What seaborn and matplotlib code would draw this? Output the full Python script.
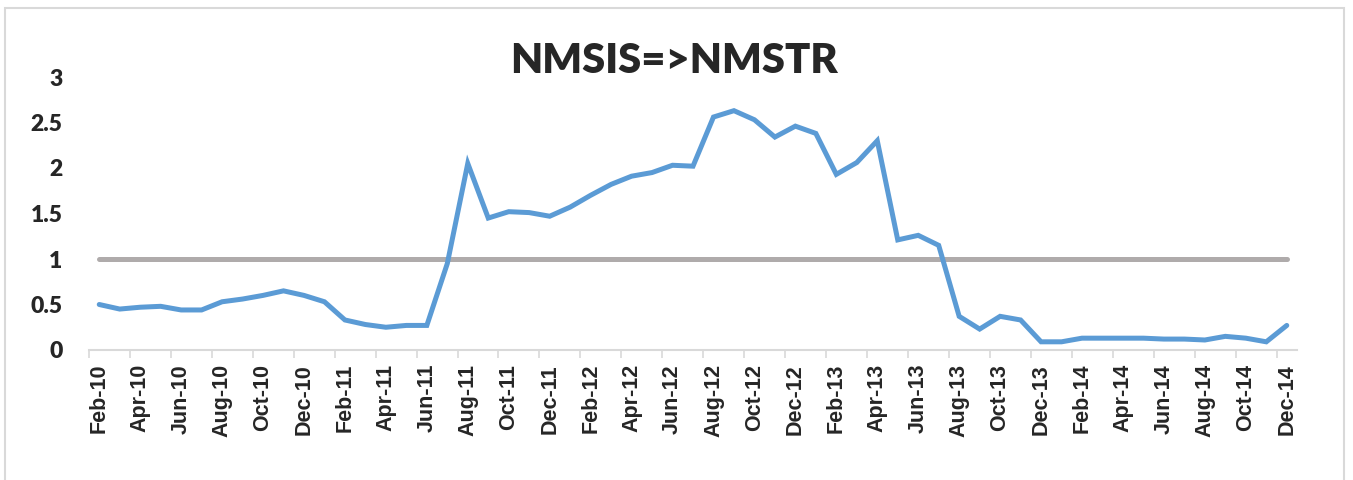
import matplotlib
matplotlib.use("Agg")
import matplotlib.pyplot as plt
from matplotlib.patches import Rectangle
import seaborn as sns
import pandas as pd
import numpy as np

# monthly labels Feb-10 .. Dec-14
months = ["Jan", "Feb", "Mar", "Apr", "May", "Jun",
          "Jul", "Aug", "Sep", "Oct", "Nov", "Dec"]
dates = [f"{months[m]}-{y:02d}" for y in range(10, 15) for m in range(12)][1:]

# values
nmsis_nmstr = [0.50, 0.45, 0.47, 0.48, 0.44, 0.44, 0.53, 0.56, 0.60, 0.65,
               0.60, 0.53, 0.33, 0.28, 0.25, 0.27, 0.27, 0.95, 2.05, 1.45,
               1.52, 1.51, 1.47, 1.57, 1.70, 1.82, 1.91, 1.95, 2.03, 2.02,
               2.56, 2.63, 2.53, 2.34, 2.46, 2.38, 1.93, 2.06, 2.30, 1.21,
               1.26, 1.15, 0.37, 0.23, 0.37, 0.33, 0.09, 0.09, 0.13, 0.13,
               0.13, 0.13, 0.12, 0.12, 0.11, 0.15, 0.13, 0.09, 0.27]
threshold = [1.0] * len(dates)

df = pd.DataFrame({"pos": np.arange(len(dates)), "date": dates,
                   "value": nmsis_nmstr, "threshold": threshold})

sns.set_style("white")
fig = plt.figure(figsize=(13.53, 4.80), dpi=100)
ax = fig.add_axes([89 / 1353, 1 - 350 / 480, (1297 - 89) / 1353, (350 - 77) / 480])

# outer chart frame
fig.patches.append(Rectangle((5 / 1353, -0.05), (1344 - 5) / 1353, 1 - 8 / 480 + 0.05,
                             transform=fig.transFigure, fill=False,
                             edgecolor="#d9d9d9", linewidth=1.5))

sns.lineplot(data=df, x="pos", y="threshold", ax=ax, color="#afabab",
             linewidth=3.6, solid_capstyle="round")
sns.lineplot(data=df, x="pos", y="value", ax=ax, color="#5b9bd5",
             linewidth=3.6, solid_capstyle="round", solid_joinstyle="miter")

ax.set_xlim(-0.5, len(dates) - 0.5)
ax.set_ylim(0, 3)
ax.set_xlabel("")
ax.set_ylabel("")

ax.set_yticks([0, 0.5, 1, 1.5, 2, 2.5, 3])
ax.set_yticklabels(["0", "0.5", "1", "1.5", "2", "2.5", "3"],
                   fontsize=16.5, fontweight="heavy", family=["Lato", "DejaVu Sans"])
ax.tick_params(axis="y", length=0, pad=19)

ax.set_xticks(df["pos"][::2])
ax.set_xticklabels(df["date"][::2], rotation=90, fontsize=15.5,
                   fontweight="bold", family=["Liberation Sans", "DejaVu Sans"])
ax.set_xticks(np.arange(-0.5, len(dates) - 1, 2), minor=True)
ax.tick_params(axis="x", which="major", length=0, pad=10)
ax.tick_params(axis="x", which="minor", length=6, width=1.2, color="#d9d9d9",
               direction="out", bottom=True)

for side in ["top", "right", "left"]:
    ax.spines[side].set_visible(False)
ax.spines["bottom"].set_color("#d9d9d9")
ax.spines["bottom"].set_linewidth(1.5)

fig.text(674 / 1353, 1 - 61 / 480, "NMSIS=>NMSTR", ha="center", va="center",
         fontsize=30, fontweight="heavy", family=["Lato", "DejaVu Sans"])

fig.savefig("out.png", dpi=100)
